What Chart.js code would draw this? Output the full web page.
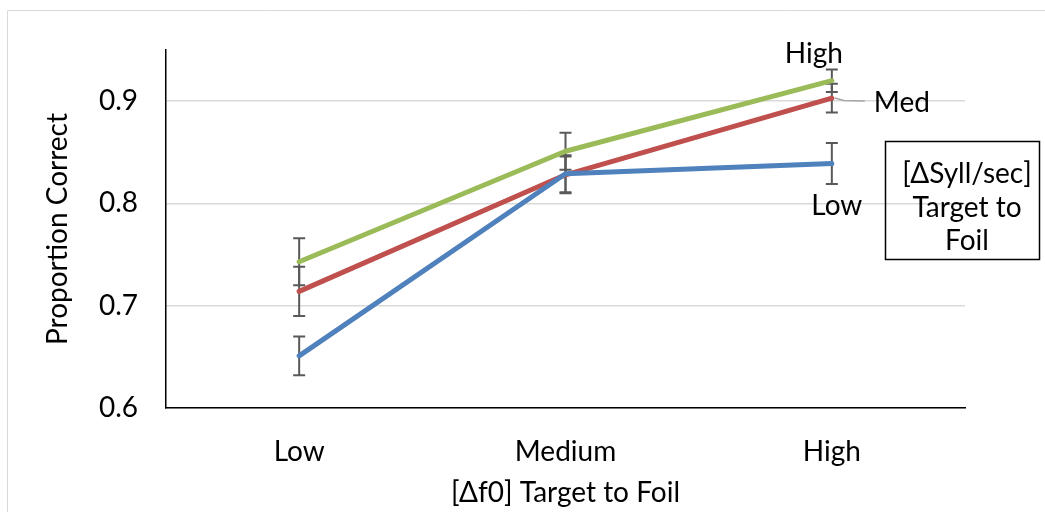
<!DOCTYPE html>
<html lang="en">
<head>
  <meta charset="UTF-8" />
  <title>Proportion Correct by Δf0 and ΔSyll/sec</title>
  <script src="https://cdn.jsdelivr.net/npm/chart.js"></script>
  <style>
    html, body { margin: 0; padding: 0; background: #fff; }
    #wrap { position: relative; width: 1045px; height: 512px; }
  </style>
</head>
<body>
  <div id="wrap"><canvas id="chart" width="1045" height="512"></canvas></div>
  <script>
    // categories on the x axis ([Δf0] Target to Foil)
    const categories = ['Low', 'Medium', 'High'];

    // series = [ΔSyll/sec] Target to Foil
    const seriesNames = ['Low', 'Med', 'High'];
    const lowVals  = [0.651, 0.829, 0.839];
    const medVals  = [0.714, 0.828, 0.903];
    const highVals = [0.743, 0.851, 0.920];

    // error bar half-widths
    const lowErr  = [0.019, 0.018, 0.020];
    const medErr  = [0.024, 0.018, 0.014];
    const highErr = [0.023, 0.018, 0.011];

    const yTicks = [0.6, 0.7, 0.8, 0.9];
    const legendLines = ['[ΔSyll/sec]', 'Target to', 'Foil'];

    const FONT = 'Lato';
    const FS = 28;
    const errs = [lowErr, medErr, highErr];

    // error bars, drawn from the y scale
    const errorBars = {
      id: 'errorBars',
      beforeDatasetsDraw(chart) {
        const ctx = chart.ctx, y = chart.scales.y;
        ctx.save();
        ctx.strokeStyle = '#595959';
        ctx.lineWidth = 2;
        chart.data.datasets.forEach((ds, i) => {
          const meta = chart.getDatasetMeta(i);
          meta.data.forEach((pt, j) => {
            const v = ds.data[j], e = errs[i][j];
            const top = y.getPixelForValue(v + e), bot = y.getPixelForValue(v - e);
            ctx.beginPath();
            ctx.moveTo(pt.x, top); ctx.lineTo(pt.x, bot);
            ctx.moveTo(pt.x - 6, top); ctx.lineTo(pt.x + 6, top);
            ctx.moveTo(pt.x - 6, bot); ctx.lineTo(pt.x + 6, bot);
            ctx.stroke();
          });
        });
        ctx.restore();
      }
    };

    // series labels at the last point, outer frame, legend box
    const extras = {
      id: 'extras',
      afterDraw(chart) {
        const ctx = chart.ctx;
        ctx.save();
        // outer frame
        ctx.strokeStyle = '#d9d9d9';
        ctx.lineWidth = 1;
        ctx.beginPath();
        ctx.moveTo(7.5, 512); ctx.lineTo(7.5, 10.5); ctx.lineTo(1045, 10.5);
        ctx.stroke();

        ctx.font = FS + 'px ' + FONT;
        ctx.fillStyle = '#000';
        ctx.textBaseline = 'middle';
        ctx.textAlign = 'center';
        const last = categories.length - 1;
        const pLow = chart.getDatasetMeta(0).data[last];
        const pMed = chart.getDatasetMeta(1).data[last];
        const pHigh = chart.getDatasetMeta(2).data[last];
        ctx.fillText(seriesNames[2], pHigh.x - 18, pHigh.y - 27);
        ctx.fillText(seriesNames[0], pLow.x + 5, pLow.y + 42);
        // leader line for Med
        ctx.strokeStyle = '#a6a6a6';
        ctx.lineWidth = 1.5;
        ctx.beginPath();
        ctx.moveTo(pMed.x + 3, pMed.y);
        ctx.lineTo(pMed.x + 12, pMed.y + 2.5);
        ctx.lineTo(pMed.x + 33, pMed.y + 3);
        ctx.stroke();
        ctx.textAlign = 'left';
        ctx.fillText(seriesNames[1], pMed.x + 42, pMed.y + 5);

        // legend / title box
        ctx.strokeStyle = '#000';
        ctx.lineWidth = 1.5;
        ctx.strokeRect(885.5, 141.5, 154, 118);
        ctx.textAlign = 'center';
        legendLines.forEach((t, i) => ctx.fillText(t, 967, 174 + i * 33.5));
        ctx.restore();
      }
    };

    const mk = (label, data, color) => ({
      label, data,
      borderColor: color, backgroundColor: color,
      borderWidth: 5, pointRadius: 0, tension: 0,
      borderCapStyle: 'round', borderJoinStyle: 'round'
    });

    new Chart(document.getElementById('chart'), {
      type: 'line',
      data: {
        labels: categories,
        datasets: [
          mk(seriesNames[0], lowVals, '#4f81bd'),
          mk(seriesNames[1], medVals, '#c0504d'),
          mk(seriesNames[2], highVals, '#9bbb59')
        ]
      },
      options: {
        responsive: false,
        animation: false,
        layout: { padding: { left: 0, top: 50, right: 80, bottom: 0 } },
        plugins: { legend: { display: false }, tooltip: { enabled: false } },
        scales: {
          x: {
            offset: true,
            grid: { display: false, drawTicks: false },
            border: { display: true, color: '#000', width: 1.5 },
            ticks: { color: '#000', font: { family: FONT, size: FS }, padding: 27 },
            title: { display: true, text: '[Δf0] Target to Foil', color: '#000',
                     font: { family: FONT, size: FS }, padding: { top: 0, bottom: 2 } },
            afterFit(s) { s.height = 104; }
          },
          y: {
            min: 0.6, max: 0.95,
            afterBuildTicks(s) { s.ticks = yTicks.map(v => ({ value: v })); },
            grid: { color: '#d9d9d9', lineWidth: 1.5, drawTicks: false },
            border: { display: true, color: '#000', width: 1.5 },
            ticks: { color: '#000', font: { family: FONT, size: FS }, padding: 28,
                     callback: v => v.toFixed(1) },
            title: { display: true, text: 'Proportion Correct', color: '#000',
                     font: { family: FONT, size: FS }, padding: { top: 41, bottom: 0 } },
            afterFit(s) { s.width = 166; }
          }
        }
      },
      plugins: [errorBars, extras]
    });
  </script>
</body>
</html>
